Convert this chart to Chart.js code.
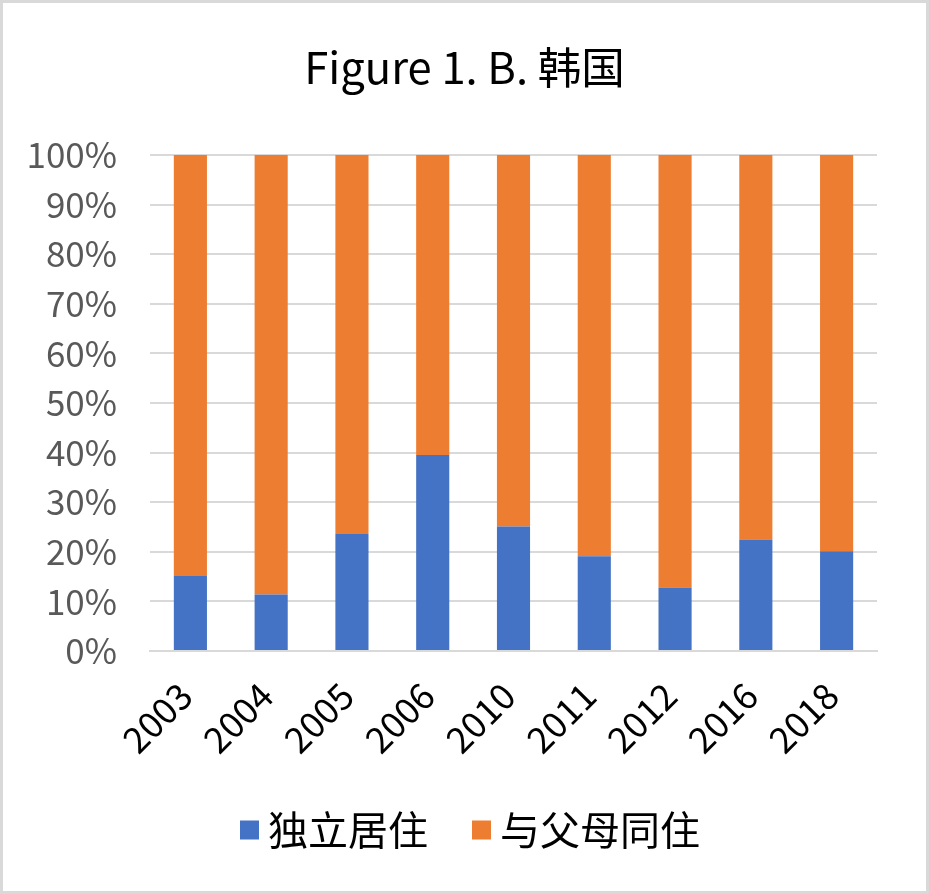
<!DOCTYPE html>
<html><head><meta charset="utf-8">
<script src="https://cdn.jsdelivr.net/npm/chart.js@4.4.0/dist/chart.umd.min.js"></script>
<style>html,body{margin:0;padding:0;background:#fff;}#wrap{width:929px;height:894px;}</style>
</head><body><div id="wrap"><canvas id="c" width="929" height="894"></canvas></div>
<script>
const categories = ['2003','2004','2005','2006','2010','2011','2012','2016','2018'];
const independent = [15.1, 11.4, 23.6, 39.5, 25.1, 19.1, 12.8, 22.5, 20.1];
const withParents = [84.9, 88.6, 76.4, 60.5, 74.9, 80.9, 87.2, 77.5, 79.9];
const seriesNames = ['独立居住', '与父母同住'];
const yTickLabels = ['0%','10%','20%','30%','40%','50%','60%','70%','80%','90%','100%'];
const titleText = 'Figure 1. B. 韩国';

const FONT = '"Noto Sans CJK SC", "Noto Sans", sans-serif';

const bgBorder = {
  id: 'bgBorder',
  beforeDraw(chart) {
    const ctx = chart.ctx;
    ctx.save();
    ctx.fillStyle = '#fff';
    ctx.fillRect(0, 0, chart.width, chart.height);
    ctx.strokeStyle = '#d9d9d9';
    ctx.lineWidth = 3;
    ctx.strokeRect(1.5, 1.5, chart.width - 3, chart.height - 3);
    ctx.restore();
  }
};

const customLegend = {
  id: 'customLegend',
  afterDraw(chart) {
    const ctx = chart.ctx;
    ctx.save();
    ctx.font = '40px ' + FONT;
    ctx.textBaseline = 'middle';
    ctx.textAlign = 'left';
    const box = 19, gap = 9, itemGap = 44, cy = 830;
    const items = chart.data.datasets.map(d => ({text: d.label, color: d.backgroundColor, w: box + gap + ctx.measureText(d.label).width}));
    const total = items.reduce((s, it) => s + it.w, 0) + itemGap * (items.length - 1);
    let x = 470 - total / 2;
    items.forEach(it => {
      ctx.fillStyle = it.color;
      ctx.fillRect(x, cy - box / 2, box, box);
      ctx.fillStyle = '#000';
      ctx.fillText(it.text, x + box + gap, cy);
      x += it.w + itemGap;
    });
    ctx.restore();
  }
};

new Chart(document.getElementById('c'), {
  type: 'bar',
  data: {
    labels: categories,
    datasets: [
      {label: seriesNames[0], data: independent, backgroundColor: '#4472C4', barPercentage: 0.41, categoryPercentage: 1},
      {label: seriesNames[1], data: withParents, backgroundColor: '#ED7D31', barPercentage: 0.41, categoryPercentage: 1}
    ]
  },
  options: {
    responsive: false,
    animation: false,
    devicePixelRatio: 1,
    layout: {padding: {top: 41, left: 0, right: 0, bottom: 0}},
    plugins: {
      legend: {display: false},
      tooltip: {enabled: false},
      title: {
        display: true, text: titleText, color: '#000',
        font: {family: FONT, size: 43.5, weight: 'normal', lineHeight: 1.2},
        padding: {top: 0, bottom: 155 - 41 - 52.2}
      }
    },
    scales: {
      x: {
        stacked: true,
        grid: {display: false, drawTicks: false},
        border: {display: true, color: '#d9d9d9', width: 2},
        ticks: {color: '#000', font: {family: FONT, size: 36}, maxRotation: 45, minRotation: 45, padding: 23, labelOffset: -5, autoSkip: false},
        afterFit(s) { s.height = 894 - 651; }
      },
      y: {
        stacked: true, min: 0, max: 100,
        grid: {color: '#d9d9d9', lineWidth: 2, drawTicks: false},
        border: {display: false},
        ticks: {stepSize: 10, color: '#595959', font: {family: FONT, size: 35}, padding: 33,
          callback: (v, i) => yTickLabels[i]},
        afterFit(s) { s.width = 150; }
      },
      ySpacer: {
        position: 'right', display: true, min: 0, max: 100,
        grid: {display: false, drawTicks: false},
        border: {display: false},
        ticks: {display: false},
        afterFit(s) { s.width = 52; }
      }
    }
  },
  plugins: [bgBorder, customLegend]
});
</script></body></html>
